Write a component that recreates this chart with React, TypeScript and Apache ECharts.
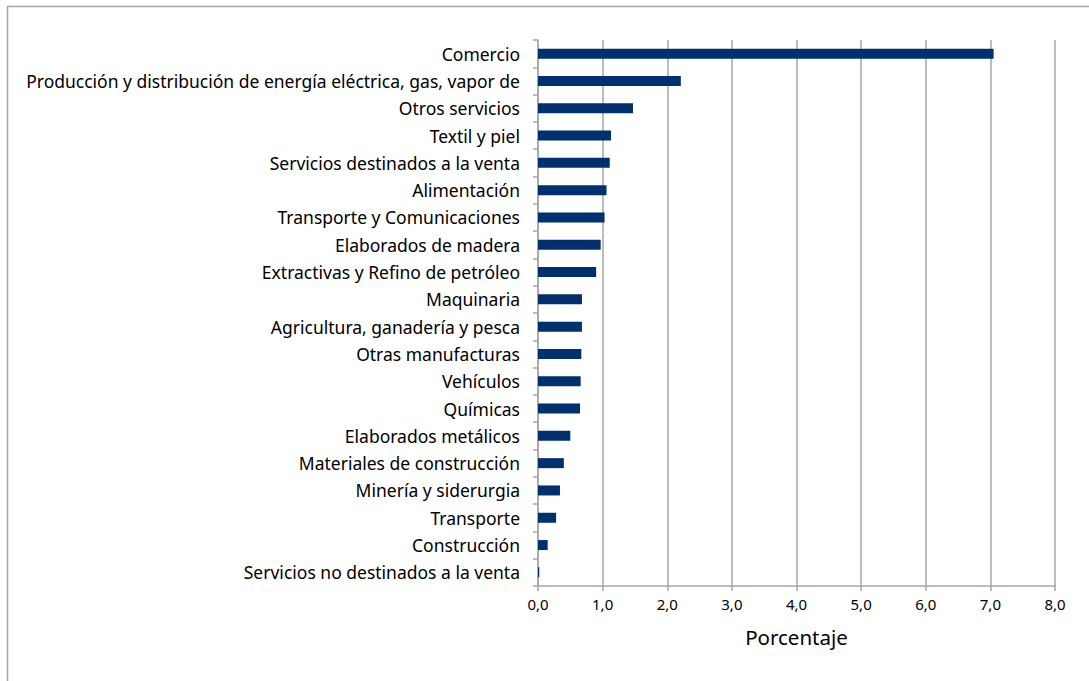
import React, { useEffect, useRef } from "react";
import * as echarts from "echarts";

const categories = [
  "Comercio",
  "Producción y distribución de energía eléctrica, gas, vapor de",
  "Otros servicios",
  "Textil y piel",
  "Servicios destinados a la venta",
  "Alimentación",
  "Transporte y Comunicaciones",
  "Elaborados de madera",
  "Extractivas y Refino de petróleo",
  "Maquinaria",
  "Agricultura, ganadería y pesca",
  "Otras manufacturas",
  "Vehículos",
  "Químicas",
  "Elaborados metálicos",
  "Materiales de construcción",
  "Minería y siderurgia",
  "Transporte",
  "Construcción",
  "Servicios no destinados a la venta",
];

const values = [
  7.05, 2.21, 1.47, 1.13, 1.11, 1.06, 1.03, 0.97, 0.9, 0.68, 0.68, 0.67, 0.66,
  0.65, 0.5, 0.4, 0.34, 0.28, 0.15, 0.02,
];

const axisMin = 0;
const axisMax = 8;
const axisInterval = 1;
const axisTitle = "Porcentaje";

const FONT = "Noto Sans";
const GRAY = "#a6a6a6";

export default function App() {
  const ref = useRef<HTMLDivElement>(null);
  useEffect(() => {
    if (!ref.current) return;
    const chart = echarts.init(ref.current, null, { renderer: "svg" });
    chart.setOption({
      animation: false,
      backgroundColor: "#ffffff",
      grid: { left: 538, right: 34, top: 40, bottom: 95, containLabel: false },
      graphic: [
        {
          type: "rect",
          shape: { x: 7.5, y: 6.5, width: 1300, height: 1000 },
          style: { fill: "none", stroke: GRAY, lineWidth: 1.5 },
          silent: true,
        },
      ],
      xAxis: {
        type: "value",
        min: axisMin,
        max: axisMax,
        interval: axisInterval,
        name: axisTitle,
        nameLocation: "middle",
        nameGap: 40,
        nameTextStyle: { fontFamily: FONT, fontSize: 20.5, color: "#000" },
        axisLine: { show: true, lineStyle: { color: GRAY, width: 1.5 } },
        axisTick: { show: true, length: 5, lineStyle: { color: GRAY, width: 1.5 } },
        axisLabel: {
          fontFamily: FONT,
          fontSize: 15,
          color: "#000",
          margin: 10,
          formatter: (v: number) => v.toFixed(1).replace(".", ","),
        },
        splitLine: { show: true, lineStyle: { color: GRAY, width: 1.5 } },
      },
      yAxis: {
        type: "category",
        data: categories,
        inverse: true,
        axisLine: { show: true, lineStyle: { color: GRAY, width: 1.5 } },
        axisTick: { show: true, length: 5, lineStyle: { color: GRAY, width: 1.5 } },
        axisLabel: {
          fontFamily: FONT,
          fontSize: 17.5,
          color: "#000",
          margin: 18,
          interval: 0,
        },
        splitLine: { show: false },
      },
      series: [
        {
          type: "bar",
          data: values,
          barWidth: 10,
          itemStyle: { color: "#00306e" },
        },
      ],
    });
    return () => chart.dispose();
  }, []);
  return (
    <div
      ref={ref}
      style={{ position: "fixed", left: 0, top: 0, width: 1089, height: 681 }}
    />
  );
}
